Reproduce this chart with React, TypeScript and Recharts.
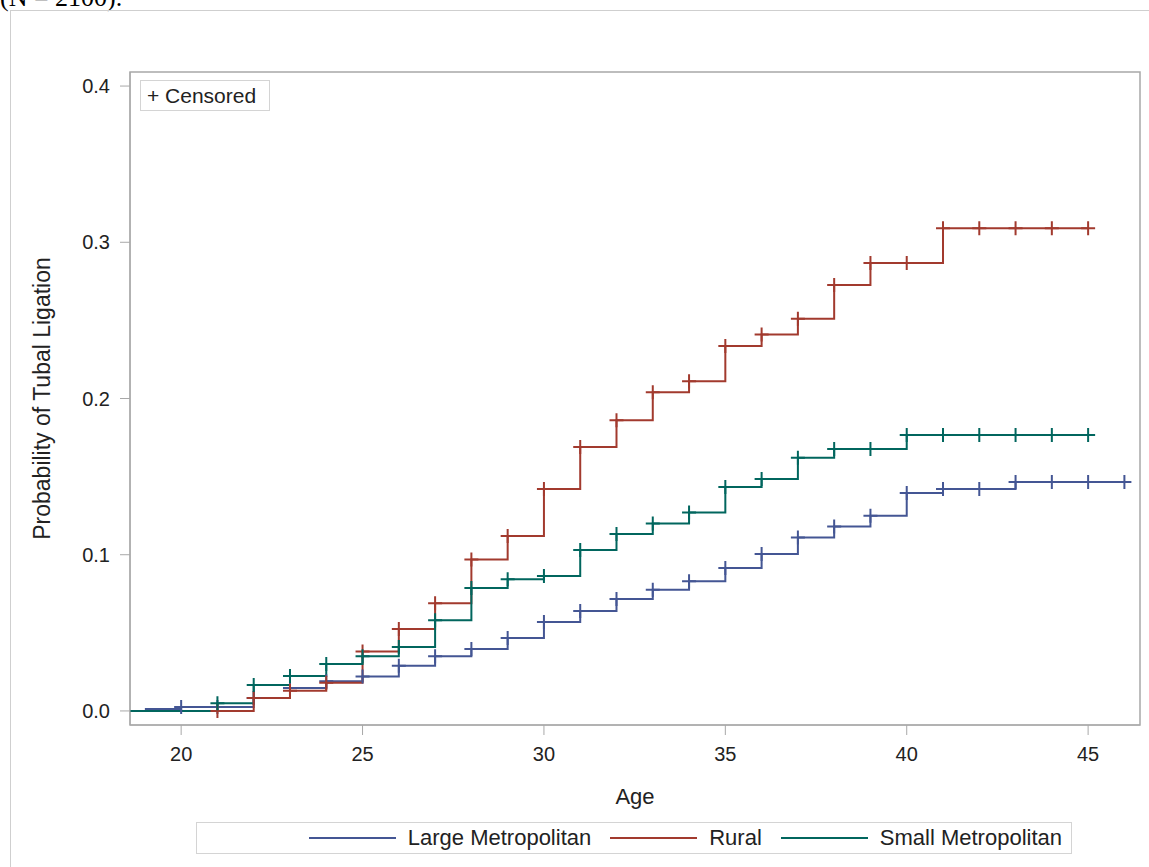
import React from 'react';
import { ComposedChart, Line, XAxis, YAxis, ReferenceArea, Legend } from 'recharts';

// ages at which each curve steps, and the cumulative probability after the step
const largeMetroAges = [19, 20, 21, 22, 23, 24, 25, 26, 27, 28, 29, 30, 31, 32, 33, 34, 35, 36, 37, 38, 39, 40, 41, 42, 43, 44, 45, 46];
const largeMetroProb = [0.0013, 0.0026, 0.0026, 0.0083, 0.0147, 0.019, 0.022, 0.029, 0.035, 0.0397, 0.0467, 0.057, 0.064, 0.0717, 0.0775, 0.083, 0.0915, 0.1005, 0.111, 0.118, 0.125, 0.1395, 0.142, 0.142, 0.1466, 0.1466, 0.1466, 0.1466];
const largeMetroCensored = [20, 21, 22, 23, 24, 25, 26, 27, 28, 29, 30, 31, 32, 33, 34, 35, 36, 37, 38, 39, 40, 41, 42, 43, 44, 45, 46];

const ruralAges = [19, 20, 21, 22, 23, 24, 25, 26, 27, 28, 29, 30, 31, 32, 33, 34, 35, 36, 37, 38, 39, 40, 41, 42, 43, 44, 45];
const ruralProb = [0, 0, 0, 0.0083, 0.013, 0.018, 0.038, 0.0525, 0.069, 0.097, 0.112, 0.142, 0.169, 0.186, 0.204, 0.211, 0.2336, 0.241, 0.251, 0.2726, 0.2867, 0.2867, 0.309, 0.309, 0.309, 0.309, 0.309];
const ruralCensored = [21, 22, 23, 24, 25, 26, 27, 28, 29, 30, 31, 32, 33, 34, 35, 36, 37, 38, 39, 40, 41, 42, 43, 44, 45];

const smallMetroAges = [18, 19, 20, 21, 22, 23, 24, 25, 26, 27, 28, 29, 30, 31, 32, 33, 34, 35, 36, 37, 38, 39, 40, 41, 42, 43, 44, 45];
const smallMetroProb = [0, 0, 0, 0.005, 0.0166, 0.0224, 0.03, 0.035, 0.041, 0.058, 0.0787, 0.0843, 0.0864, 0.103, 0.1133, 0.12, 0.127, 0.1434, 0.1485, 0.162, 0.1677, 0.1677, 0.1766, 0.1766, 0.1766, 0.1766, 0.1766, 0.1766];
const smallMetroCensored = [21, 22, 23, 24, 25, 26, 27, 28, 29, 30, 31, 32, 33, 34, 35, 36, 37, 38, 39, 40, 41, 42, 43, 44, 45];

const ageTicks = [20, 25, 30, 35, 40, 45];
const probTicks = [0, 0.1, 0.2, 0.3, 0.4];
const ageDomain: [number, number] = [18.59, 46.43];
const probDomain: [number, number] = [-0.009, 0.409];

const FONT = "'Liberation Sans', Arial, sans-serif";
const FRAME = '#a8a8a8';

function build(ages: number[], probs: number[], censored: number[]) {
  return ages.map((age, i) => ({ age, prob: probs[i], censored: censored.includes(age) }));
}

const series = [
  { name: 'Large Metropolitan', color: '#445694', data: build(largeMetroAges, largeMetroProb, largeMetroCensored) },
  { name: 'Rural', color: '#A23A2E', data: build(ruralAges, ruralProb, ruralCensored) },
  { name: 'Small Metropolitan', color: '#01665E', data: build(smallMetroAges, smallMetroProb, smallMetroCensored) },
];

function censorDot(color: string) {
  return (props: any) => {
    const { cx, cy, payload, index } = props;
    if (!payload?.censored || cx == null || cy == null) return <g key={index} />;
    return (
      <path key={index} d={`M${cx - 7},${cy}h14M${cx},${cy - 7}v14`} stroke={color} strokeWidth={2} fill="none" />
    );
  };
}

function BottomLegend() {
  return (
    <div
      style={{
        boxSizing: 'border-box',
        width: 876,
        height: 32,
        border: '1px solid #d4d4d4',
        display: 'flex',
        justifyContent: 'flex-end',
        alignItems: 'center',
        paddingRight: 9,
        fontFamily: FONT,
        fontSize: 22,
        color: '#222',
      }}
    >
      {series.map((s) => (
        <span key={s.name} style={{ display: 'flex', alignItems: 'center', marginLeft: 19 }}>
          <span style={{ display: 'inline-block', width: 87, height: 2, background: s.color, marginRight: 12 }} />
          {s.name}
        </span>
      ))}
    </div>
  );
}

export default function App() {
  return (
    <div style={{ position: 'absolute', left: 0, top: 0, width: 1149, height: 867, overflow: 'hidden', background: '#fff' }}>
      <div style={{ position: 'absolute', left: 0, top: -15, fontFamily: "'Liberation Serif', serif", fontSize: 26, lineHeight: 1, whiteSpace: 'nowrap' }}>
        (N = 2100).
      </div>
      <div style={{ position: 'absolute', left: 10, top: 10, width: 1200, height: 900, border: '1px solid #cfcfcf' }} />
      <div style={{ position: 'absolute', left: 0, top: 0 }}>
        <ComposedChart width={1149} height={867} margin={{ top: 72, right: 9, left: 10, bottom: 102 }}>
          <XAxis
            dataKey="age"
            type="number"
            domain={ageDomain}
            allowDataOverflow
            ticks={ageTicks}
            height={40}
            tickSize={10}
            tickMargin={12}
            stroke={FRAME}
            tick={{ fill: '#222', fontSize: 20, fontFamily: FONT }}
            label={{ value: 'Age', position: 'bottom', offset: 23, fill: '#222', fontSize: 22, fontFamily: FONT }}
          />
          <YAxis
            type="number"
            domain={probDomain}
            allowDataOverflow
            ticks={probTicks}
            width={120}
            tickSize={10}
            tickMargin={10}
            stroke={FRAME}
            tickFormatter={(v) => Number(v).toFixed(1)}
            tick={{ fill: '#222', fontSize: 20, fontFamily: FONT }}
            label={{
              value: 'Probability of Tubal Ligation',
              angle: -90,
              position: 'insideLeft',
              offset: 32,
              fill: '#222',
              fontSize: 23,
              fontFamily: FONT,
              style: { textAnchor: 'middle' },
            }}
          />
          <ReferenceArea x1={ageDomain[0]} x2={ageDomain[1]} y1={probDomain[0]} y2={probDomain[1]} fill="none" stroke={FRAME} strokeWidth={1.5} />
          {series.map((s) => (
            <Line
              key={s.name}
              data={s.data}
              dataKey="prob"
              name={s.name}
              type="stepAfter"
              stroke={s.color}
              strokeWidth={2}
              dot={censorDot(s.color)}
              activeDot={false}
              isAnimationActive={false}
            />
          ))}
          <Legend
            layout="vertical"
            align="center"
            verticalAlign="middle"
            wrapperStyle={{ left: 196, top: 822, width: 876, height: 32 }}
            content={() => <BottomLegend />}
          />
        </ComposedChart>
      </div>
      <div
        style={{
          position: 'absolute',
          left: 140,
          top: 80,
          width: 130,
          height: 31,
          boxSizing: 'border-box',
          border: '1px solid #d4d4d4',
          fontFamily: FONT,
          fontSize: 21,
          color: '#222',
          display: 'flex',
          alignItems: 'center',
          paddingLeft: 6,
        }}
      >
        + Censored
      </div>
    </div>
  );
}
